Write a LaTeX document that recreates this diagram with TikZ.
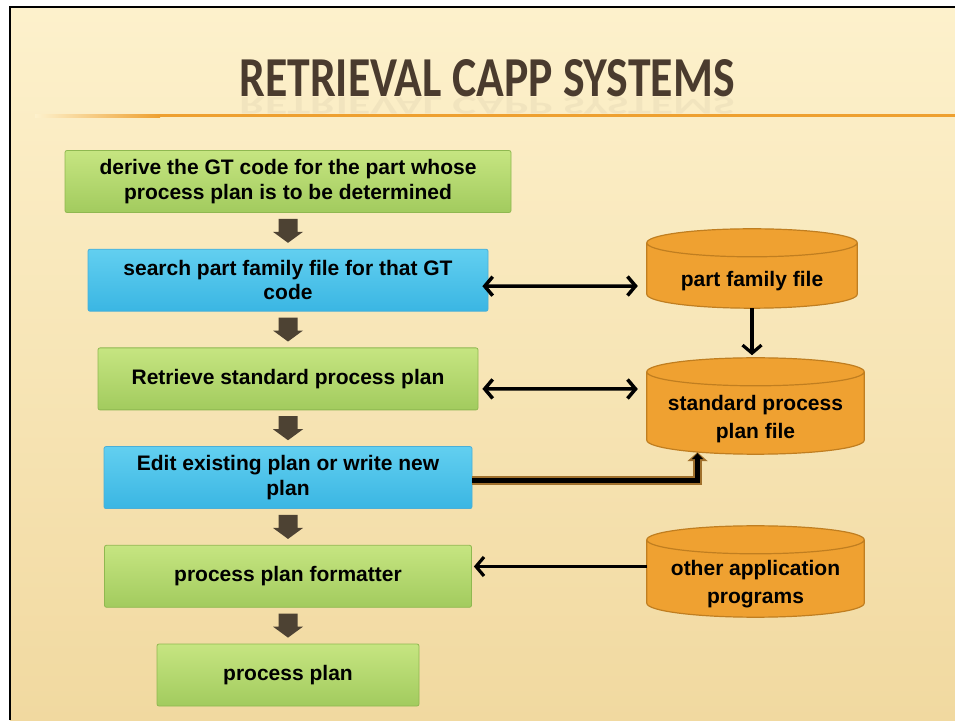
\documentclass[tikz,border=0pt]{standalone}
\usepackage{fontspec}
\setmainfont{Liberation Sans}
\newfontfamily\titlefont{Carlito}
\usetikzlibrary{positioning,calc,arrows.meta,backgrounds}

\definecolor{slidetop}{HTML}{FDF1CC}
\definecolor{slidebot}{HTML}{F1D9A0}
\definecolor{gtop}{HTML}{C6E581}
\definecolor{gbot}{HTML}{A2CB5E}
\definecolor{gedge}{HTML}{8FB850}
\definecolor{btop}{HTML}{62CFF0}
\definecolor{bbot}{HTML}{3AB6E3}
\definecolor{bedge}{HTML}{4AAFD8}
\definecolor{cylfill}{HTML}{EFA131}
\definecolor{cyledge}{HTML}{C07E20}
\definecolor{arrowbrown}{HTML}{4D4233}
\definecolor{titlebrown}{HTML}{4A3B2E}
\definecolor{lineorange}{HTML}{EEA030}
\definecolor{edgebrown}{HTML}{A0702C}

\begin{document}
\begin{tikzpicture}[x=1pt,y=1pt,node distance={98.7pt},
    font=\bfseries\fontsize{21}{24.5}\selectfont,
    gbox/.style = {draw=gedge, line width=0.8pt, rounded corners=2pt, top color=gtop, bottom color=gbot, minimum height=62pt, align=center},
    bbox/.style = {draw=bedge, line width=0.8pt, rounded corners=2pt, top color=btop, bottom color=bbot, minimum height=62pt, align=center},
    file/.style = {align=center, inner sep=0pt},
    drum/.style = {draw=cyledge, line width=1.2pt, fill=cylfill},
    both/.style = {line width=3.5pt, {Straight Barb[length=8pt,width=19pt]}-{Straight Barb[length=8pt,width=19pt]}},
    one/.style = {line width=3.2pt, -{Straight Barb[length=8pt,width=19pt]}},
    downarrow/.style = {fill=arrowbrown}]
    \useasboundingbox (0,0) rectangle (955,720);

    % slide
    \begin{pgfonlayer}{background}
        \fill[white] (0,0) rectangle (955,720);
        \shade[top color=slidetop, bottom color=slidebot] (10,0) rectangle (955,713);
        \draw[line width=2pt] (10,0) -- (10,713) -- (955,713);
        \shade[left color=slidetop, right color=lineorange] (35,602.5) rectangle (160,605.5);
        \fill[lineorange] (160,602.5) rectangle (955,605.5);
    \end{pgfonlayer}

    \node[text=titlebrown](title) at (487,642){\titlefont\resizebox{495pt}{37pt}{RETRIEVAL CAPP SYSTEMS}};
    \node[text=titlebrown, opacity=0.05](mirror) at (487,614){\titlefont\scalebox{1}[-0.45]{\resizebox{495pt}{37pt}{RETRIEVAL CAPP SYSTEMS}}};

    % steps
    \node[gbox, minimum width=446pt](1) at (288,538.5){derive the GT code for the part whose\\process plan is to be determined};
    \node[bbox, minimum width=400pt](2)[below of=1]{search part family file for that GT\\code};
    \node[gbox, minimum width=380pt](3)[below of=2]{Retrieve standard process plan};
    \node[bbox, minimum width=368pt](4)[below of=3]{Edit existing plan or write new\\plan};
    \node[gbox, minimum width=367pt](5)[below of=4]{process plan formatter};
    \node[gbox, minimum width=262pt](6)[below of=5]{process plan};

    % files
    \node[file, minimum width=210pt, minimum height=65pt](pf) at (752,438.5){part family file};
    \node[file, minimum width=217pt, minimum height=82pt](spf) at (755.5,301){standard process\\[3.5pt]plan file};
    \node[file, minimum width=217pt, minimum height=77pt](oap) at (755.5,135.5){other application\\[3.5pt]programs};

    \begin{pgfonlayer}{background}
        \foreach \c in {pf,spf,oap}
            \draw[drum] let \p1=(\c.north west), \p2=(\c.south east), \n1={(\x2-\x1)/2} in
                (\x1,\y1+6pt) -- (\x1,\y2+20pt) arc[start angle=180, end angle=360, x radius=\n1, y radius=14pt]
                -- (\x2,\y1+6pt) arc[start angle=0, end angle=180, x radius=\n1, y radius=14pt] -- cycle
                (\x1,\y1+6pt) arc[start angle=180, end angle=360, x radius=\n1, y radius=14pt];
    \end{pgfonlayer}

    \foreach \a/\b in {1/2,2/3,3/4,4/5,5/6}
        \fill[downarrow] ($(\a.south)!.5!(\b.north)$) ++(-9.5,12) -- ++(19,0) -- ++(0,-13) -- ++(5.5,0)
            -- ++(-15,-11) -- ++(-15,11) -- ++(5.5,0) -- cycle;

    \draw[both] ([xshift=-6pt,yshift=-6pt]2.east) -- ([xshift=-9pt,yshift=-4.5pt]pf.west);
    \draw[both] ([xshift=4pt,yshift=-10pt]3.east) -- ([xshift=-9pt,yshift=30pt]spf.west);
    \draw[one] ([yshift=6pt]pf.south) -- ++(0,-47);
    \draw[one] ([yshift=18pt]oap.west) coordinate (o) -- ([xshift=2pt]o -| 5.east);
    \draw[line width=9pt, edgebrown, -{Triangle[length=9pt,width=20pt]}] ([yshift=-3pt]4.east) -| ([xshift=-58pt,yshift=8pt]spf.south);
    \draw[line width=5pt, -{Triangle[length=6pt,width=11pt]}] ([yshift=-3pt]4.east) -| ([xshift=-58pt,yshift=7pt]spf.south);
\end{tikzpicture}
\end{document}
